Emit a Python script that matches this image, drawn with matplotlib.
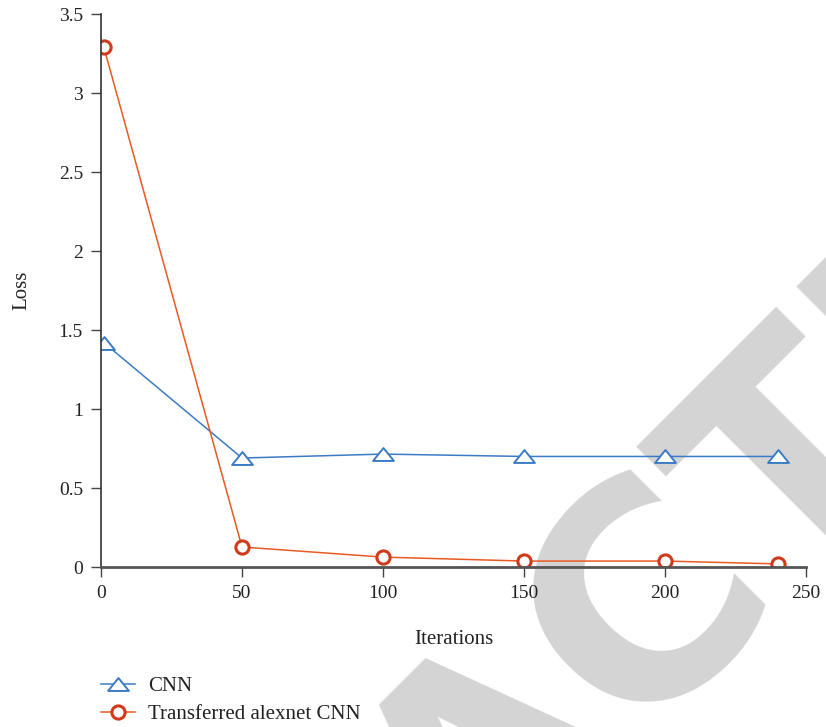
import matplotlib.pyplot as plt
from matplotlib.path import Path

# loss per iteration for both models
iterations = [1, 50, 100, 150, 200, 240]
cnn_loss = [1.42, 0.69, 0.715, 0.70, 0.70, 0.70]
alexnet_loss = [3.29, 0.127, 0.063, 0.038, 0.038, 0.02]

x_ticks = [0, 50, 100, 150, 200, 250]
y_ticks = [0, 0.5, 1, 1.5, 2, 2.5, 3, 3.5]
y_tick_labels = ["0", "0.5", "1", "1.5", "2", "2.5", "3", "3.5"]

plt.rcParams['font.family'] = ['Liberation Serif', 'DejaVu Serif']

blue = '#3b7bc6'
orange = '#e85a22'
red = '#d03a1a'

# flat open triangle marker
tri = Path([(-1, -0.62), (1, -0.62), (0, 0.62), (-1, -0.62)],
           [Path.MOVETO, Path.LINETO, Path.LINETO, Path.CLOSEPOLY])

fig = plt.figure(figsize=(8.26, 7.27), dpi=100)
ax = fig.add_axes([0.1223, 0.220, 0.8535, 0.7607])
ax.set_facecolor('none')

fig.text(0.665, -0.1155, "RETRACTED", rotation=45, rotation_mode='anchor',
         ha='center', va='baseline', fontsize=212, fontweight='bold',
         family='DejaVu Sans', color='#d4d4d4', zorder=-1)

ax.plot(iterations, cnn_loss, color=blue, lw=1.1, marker=tri, ms=15,
        mfc='white', mec=blue, mew=1.4, label='CNN')
ax.plot(iterations, alexnet_loss, color=orange, lw=1.1, marker='o', ms=9.5,
        mfc='white', mec=red, mew=2.2, label='Transferred alexnet CNN')

ax.set_xlim(0, 250)
ax.set_ylim(0, 3.5)
ax.set_xticks(x_ticks)
ax.set_yticks(y_ticks)
ax.set_yticklabels(y_tick_labels)

for side in ['top', 'right']:
    ax.spines[side].set_visible(False)
ax.spines['left'].set_color('#333333')
ax.spines['left'].set_linewidth(1.2)
ax.spines['bottom'].set_color('#555555')
ax.spines['bottom'].set_linewidth(2.0)
ax.tick_params(axis='both', direction='out', length=7, width=1.0,
               color='#444444', labelsize=14, labelcolor='#222222', pad=6)

ax.set_xlabel('Iterations', fontsize=15, color='#222222', labelpad=20)
ax.set_ylabel('Loss', fontsize=15, color='#222222', labelpad=20)

fig.legend(loc='upper left', bbox_to_anchor=(0.1223, 0.069), frameon=False,
           fontsize=15, handlelength=1.65, handletextpad=0.6,
           labelspacing=0.4, borderpad=0, borderaxespad=0,
           labelcolor='#222222')

fig.savefig('out.png', dpi=100)
